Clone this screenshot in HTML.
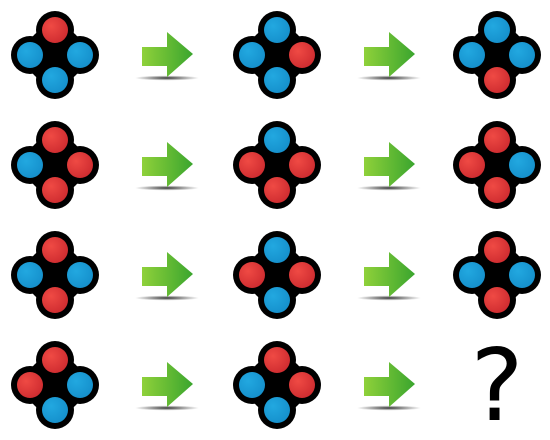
<!DOCTYPE html>
<html><head><meta charset="utf-8"><style>
html,body{margin:0;padding:0;background:#fff;width:550px;height:440px;overflow:hidden}
svg{display:block}
</style></head><body>
<svg width="550" height="440" viewBox="0 0 550 440">
<defs>
<radialGradient id="rg" cx="0.35" cy="0.35" r="0.7"><stop offset="0" stop-color="#ef4a44"/><stop offset="1" stop-color="#cf2c30"/></radialGradient>
<radialGradient id="bg" cx="0.35" cy="0.35" r="0.7"><stop offset="0" stop-color="#22a8e0"/><stop offset="1" stop-color="#1590cc"/></radialGradient>
<linearGradient id="ag" x1="0" x2="1"><stop offset="0" stop-color="#8fd13a"/><stop offset="1" stop-color="#3aa52e"/></linearGradient>
<radialGradient id="sg" cx="0.5" cy="0.5" r="0.5"><stop offset="0" stop-color="#000" stop-opacity="0.8"/><stop offset="1" stop-color="#000" stop-opacity="0"/></radialGradient>
</defs>
<g id="root"></g>
<text x="497" y="420" font-family="DejaVu Sans, sans-serif" font-size="100" text-anchor="middle" fill="#000">?</text>
</svg>
<script>
const colsX=[55,277,497];
const rowsY=[55,165,275,385];
const arrowX=[142,364];
// each cluster: top,left,right,bottom (R=red,B=blue)
const grid=[
 ["RBBB","BBRB","BBBR"],
 ["RBRR","BRRR","RRBR"],
 ["RBBR","BRRB","RBBR"],
 ["RRBB","RBRB",null]
];
const ns="http://www.w3.org/2000/svg";
const root=document.getElementById('root');
function mk(t,a){const e=document.createElementNS(ns,t);for(const k in a)e.setAttribute(k,a[k]);return e;}
const offs=[[0,-25],[-25,0],[25,0],[0,25]];
grid.forEach((row,ri)=>{
  row.forEach((c,ci)=>{
    if(!c)return;
    const g=mk('g',{});
    
    
    const cx=colsX[ci],cy=rowsY[ri];
    g.appendChild(mk('circle',{cx:cx,cy:cy,r:29,fill:'#000'}));
    offs.forEach(o=>g.appendChild(mk('circle',{cx:cx+o[0],cy:cy+o[1],r:19,fill:'#000'})));
    offs.forEach((o,i)=>{
      const d=mk('circle',{cx:cx+o[0],cy:cy+o[1],r:13,fill:c[i]==='R'?'url(#rg)':'url(#bg)'});
      
      
      g.appendChild(d);
    });
    root.appendChild(g);
  });
  arrowX.forEach((ax,ai)=>{
    const y=rowsY[ri];
    const g=mk('g',{});
    
    
    g.appendChild(mk('ellipse',{cx:ax+25,cy:y+23,rx:32,ry:2.5,fill:'url(#sg)'}));
    g.appendChild(mk('polygon',{points:`${ax},${y-8} ${ax+25},${y-8} ${ax+25},${y-23} ${ax+51},${y-1} ${ax+25},${y+22} ${ax+25},${y+11} ${ax},${y+11}`,fill:'url(#ag)'}));
    root.appendChild(g);
  });
});
</script>
</body></html>
